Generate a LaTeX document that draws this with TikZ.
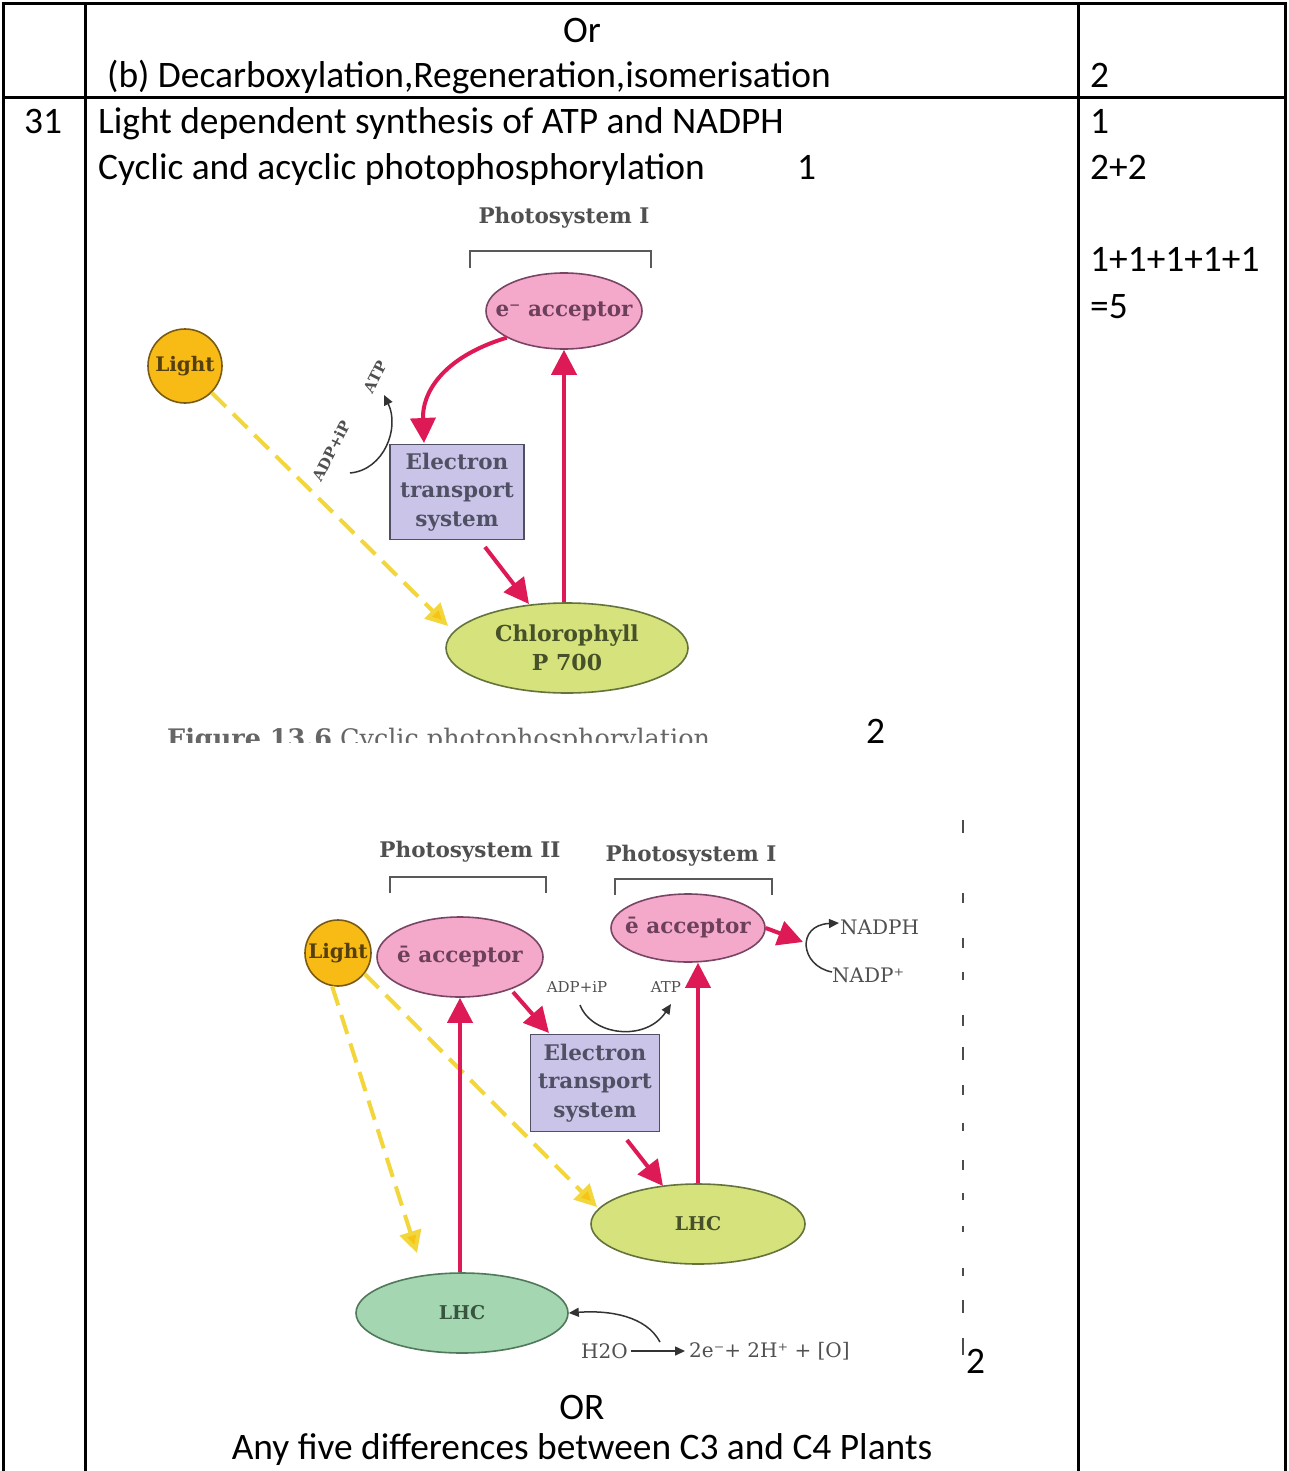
\documentclass[tikz,border=0pt]{standalone}
\usepackage{fontspec}
\setmainfont{Carlito}
\newfontfamily\dfont{DejaVu Serif}
\usetikzlibrary{shapes.geometric,arrows.meta,calc}
\definecolor{crim}{RGB}{222,26,86}
\definecolor{pinkfill}{RGB}{244,168,202}
\definecolor{pinkline}{RGB}{120,70,100}
\definecolor{yel}{RGB}{242,214,60}
\definecolor{yelhead}{RGB}{246,196,20}
\definecolor{lightfill}{RGB}{248,186,20}
\definecolor{lightline}{RGB}{120,90,20}
\definecolor{lav}{RGB}{202,196,232}
\definecolor{lavline}{RGB}{80,80,100}
\definecolor{chlfill}{RGB}{214,226,124}
\definecolor{chlline}{RGB}{100,115,60}
\definecolor{mint}{RGB}{164,214,178}
\definecolor{mintline}{RGB}{80,120,90}
\definecolor{dtext}{RGB}{80,80,80}
\tikzset{
  tabtext/.style={font=\fontsize{37.4}{44}\selectfont, inner sep=0pt},
  dlabel/.style={font=\dfont\bfseries\fontsize{21.5}{25}\selectfont, text=dtext, inner sep=0pt},
  accbox/.style={ellipse, draw=pinkline, line width=1.6pt, fill=pinkfill, inner sep=0pt},
  acctext/.style={inner sep=0pt, text=pinkline!90!black, font=\dfont\bfseries\fontsize{21.5}{25}\selectfont},
  lightbox/.style={circle, draw=lightline, line width=1.6pt, fill=lightfill, inner sep=0pt},
  lighttext/.style={inner sep=0pt, text=lightline!70!black, font=\dfont\bfseries\fontsize{20}{24}\selectfont},
  etsbox/.style={rectangle, draw=lavline, line width=1.6pt, fill=lav, inner sep=0pt, align=center, text=lavline, font=\dfont\bfseries\fontsize{21.5}{28.5}\selectfont},
  chlbox/.style={ellipse, draw=chlline, line width=1.6pt, fill=chlfill, inner sep=0pt},
  chltext/.style={inner sep=0pt, align=center, text=chlline!70!black, font=\dfont\bfseries\fontsize{22}{29}\selectfont},
  lhcbox/.style={ellipse, draw=mintline, line width=1.6pt, fill=mint, inner sep=0pt},
  lhctext/.style={inner sep=0pt, text=mintline!70!black, font=\dfont\bfseries\fontsize{19}{24}\selectfont},
  redarrow/.style={draw=crim, line width=4pt, -{Triangle[width=25pt,length=25pt,fill=crim]}},
  yelarrow/.style={draw=yel, line width=4pt, dash pattern=on 20pt off 10pt, -{Triangle[width=22pt,length=22pt,fill=yelhead]}},
  blkarrow/.style={draw=black!80, line width=1.5pt, -{Triangle[width=9pt,length=10pt]}},
  bracket/.style={draw=black!65, line width=1.5pt},
  small/.style={font=\dfont\fontsize{15}{18}\selectfont, text=dtext, inner sep=0pt},
  mid/.style={font=\dfont\fontsize{20}{24}\selectfont, text=dtext, inner sep=0pt},
  tline/.style={draw=black, line width=3pt},
  noise/.style={draw=black!70, line width=1.6pt}
}
\begin{document}
\begin{tikzpicture}[x=1pt,y=-1pt]
\useasboundingbox (0,0) rectangle (1288,1471);
\fill[white] (0,0) rectangle (1288,1471);
% table lines
\draw[tline] (3,1475) -- (3,4) -- (1285,4) -- (1285,1475);
\draw[tline] (3,98) -- (1285,98);
\draw[tline] (85,4) -- (85,1475);
\draw[tline] (1078,4) -- (1078,1475);
% table texts
\node[tabtext, anchor=base] (t1) at (582,43) {Or};
\node[tabtext, anchor=base west] (t2) at (107,88) {(b) Decarboxylation,Regeneration,isomerisation};
\node[tabtext, anchor=base west] (t3) at (1090,88) {2};
\node[tabtext, anchor=base west] (t4) at (24,134) {31};
\node[tabtext, anchor=base west] (t5) at (98,134) {Light dependent synthesis of ATP and NADPH};
\node[tabtext, anchor=base west] (t6) at (98,180) {Cyclic and acyclic photophosphorylation};
\node[tabtext, anchor=base west] (t7) at (797,180) {1};
\node[tabtext, anchor=base west] (t8) at (1090,134) {1};
\node[tabtext, anchor=base west] (t9) at (1090,180) {2+2};
\node[tabtext, anchor=base west] (t10) at (1090,272) {1+1+1+1+1};
\node[tabtext, anchor=base west] (t11) at (1090,318) {=5};
\node[tabtext, anchor=base west] (t12) at (866,743) {2};
\node[tabtext, anchor=base west] (t13) at (966,1373) {2};
\node[tabtext, anchor=base] (t14) at (582,1419) {OR};
\node[tabtext, anchor=base] (t15) at (582,1459) {Any five differences between C3 and C4 Plants};

% ===== top diagram: cyclic =====
\node[dlabel] (ps1) at (564,218) {Photosystem I};
\draw[bracket] (470,268) -- (470,251) -- (651,251) -- (651,268);
\node[accbox, minimum width=156pt, minimum height=76pt] (acc1) at (564,311) {};
\node[acctext] (acc1t) at (acc1) {e⁻ acceptor};
\node[lightbox, minimum size=74pt] (lightA) at (185,366) {};
\node[lighttext] (lightAt) at (lightA) {Light};
\node[etsbox, minimum width=134pt, minimum height=95pt] (ets1) at (457,492) {Electron\\transport\\system};
\node[chlbox, minimum width=242pt, minimum height=90pt] (chl) at (567,648) {};
\node[chltext] (chlt) at (chl) {Chlorophyll\\P 700};
\coordinate (c1) at (424,443);
\coordinate (d1s) at (485,547);
\coordinate (d1e) at (529,604);
\coordinate (y1e) at (448,626);
\coordinate (b1s) at (350,473);
\coordinate (b1e) at (384,395);
\draw[yelarrow] (lightA.-45) -- (y1e);
\draw[redarrow] (chl.north -| acc1.south) -- (acc1.south);
\draw[redarrow] (acc1.205) .. controls (440,358) and (422,395) .. (c1);
\draw[redarrow] (d1s) -- (d1e);
\draw[blkarrow] (b1s) .. controls (384,470) and (400,428) .. (b1e);
\node[small, font=\dfont\bfseries\fontsize{15}{18}\selectfont, rotate=63] (adp1) at (331,451) {ADP+iP};
\node[small, font=\dfont\bfseries\fontsize{15}{18}\selectfont, rotate=63] (atp1) at (375,377) {ATP};
\begin{scope}
\clip (150,718) rectangle (720,742);
\node[font=\dfont\fontsize{25.5}{30}\selectfont, text=black!60, inner sep=0pt, anchor=base west] (cap) at (167,747) {\textbf{Figure 13.6} Cyclic photophosphorylation};
\end{scope}

% ===== bottom diagram: non-cyclic =====
\node[dlabel] (ps2) at (470,852) {Photosystem II};
\draw[bracket] (390,893) -- (390,877) -- (546,877) -- (546,893);
\node[dlabel] (ps1b) at (691,856) {Photosystem I};
\draw[bracket] (615,895) -- (615,879) -- (772,879) -- (772,895);
\node[lightbox, minimum size=66pt] (lightB) at (338,953) {};
\node[lighttext] (lightBt) at (lightB) {Light};
\node[accbox, minimum width=166pt, minimum height=80pt] (accL) at (460,957) {};
\node[acctext] (accLt) at (accL) {ē acceptor};
\node[accbox, minimum width=154pt, minimum height=68pt] (accR) at (688,928) {};
\node[acctext] (accRt) at (accR) {ē acceptor};
\node[etsbox, minimum width=129pt, minimum height=97pt] (etsB) at (595,1083) {Electron\\transport\\system};
\node[chlbox, minimum width=214pt, minimum height=80pt] (lhcR) at (698,1224) {};
\node[lhctext, text=chlline!70!black] (lhcRt) at (lhcR) {LHC};
\node[lhcbox, minimum width=212pt, minimum height=80pt] (lhcL) at (462,1313) {};
\node[lhctext] (lhcLt) at (lhcL) {LHC};
\coordinate (y2e) at (417,1253);
\coordinate (y3e) at (597,1207);
\coordinate (r1s) at (513,992);
\coordinate (r1e) at (549,1033);
\coordinate (r2s) at (627,1140);
\coordinate (r2e) at (663,1186);
\coordinate (r3e) at (803,942);
\coordinate (b2s) at (580,1005);
\coordinate (b2e) at (671,1004);
\coordinate (b3s) at (832,972);
\coordinate (b3e) at (839,923);
\coordinate (b4s) at (660,1342);
\draw[yelarrow] (lightB.-100) -- (y2e);
\draw[yelarrow] (lightB.-38) -- (y3e);
\draw[redarrow] (lhcL.north -| accL.south) -- (accL.south);
\draw[redarrow] (lhcR.north) -- (lhcR.north |- accR.south);
\draw[redarrow] (r1s) -- (r1e);
\draw[redarrow] (r2s) -- (r2e);
\draw[redarrow] (accR.east) -- (r3e);
\draw[blkarrow] (b2s) .. controls (592,1036) and (646,1042) .. (b2e);
\node[small] (adp2) at (577,987) {ADP+iP};
\node[small] (atp2) at (666,987) {ATP};
\draw[blkarrow] (b3s) .. controls (800,966) and (796,925) .. (b3e);
\node[mid, anchor=west] (nadph) at (840,927) {NADPH};
\node[mid, anchor=west] (nadp) at (832,975) {NADP⁺};
\draw[blkarrow] (b4s) .. controls (646,1316) and (610,1310) .. (lhcL.east);
\node[mid, anchor=east] (h2o) at (628,1351) {H2O};
\node[mid, anchor=west] (prod) at (689,1351) {2e⁻+ 2H⁺ + [O]};
\draw[blkarrow] (h2o.east) ++(3,0) -- ($(prod.west)+(-4,0)$);

% scan noise at right edge
\foreach \a/\b in {820/833,893/903,938/948,972/980,1015/1026,1047/1060,1085/1095,1123/1131,1160/1170,1193/1200,1226/1232,1268/1276,1300/1313,1338/1355}
  \draw[noise] (963,\a) -- (963,\b);
\end{tikzpicture}
\end{document}
